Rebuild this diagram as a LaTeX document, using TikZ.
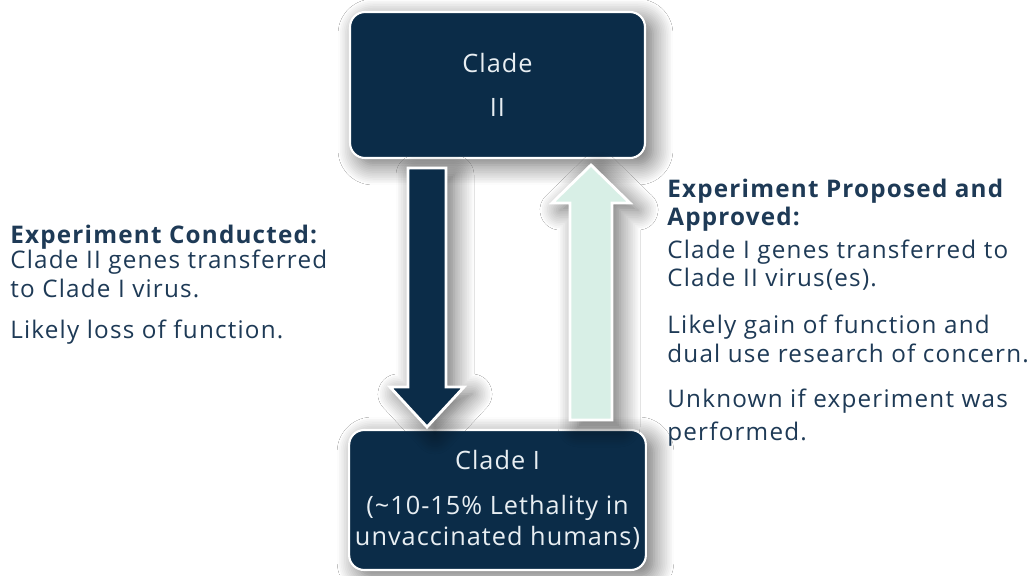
\documentclass[tikz,border=0pt]{standalone}
\usepackage{fontspec}
\setmainfont{Open Sans}[LetterSpace=4]
\newfontfamily\labfont{Open Sans}[LetterSpace=5]
\usetikzlibrary{shadows.blur}
\definecolor{navy}{HTML}{0B2C48}
\definecolor{mint}{HTML}{D8EFE6}
\definecolor{txt}{HTML}{1E3A56}
\definecolor{boxtxt}{HTML}{E8EEF2}
\begin{document}
\begin{tikzpicture}[x=0.02cm,y=-0.02cm,
  sh/.style={blur shadow={shadow xshift=0.16cm, shadow yshift=-0.14cm, shadow blur steps=12, shadow blur radius=0.4cm, shadow opacity=60}},
  clade/.style={draw=white, line width=1.2pt, fill=navy, rounded corners=0.3cm, text=boxtxt, align=center, minimum width=5.9cm, sh},
  blockarrow/.style={draw=white, line width=1.6pt, line join=miter, sh},
  lab/.style={anchor=base west, inner sep=0pt, text=txt, font=\labfont\fontsize{13.8}{16}\selectfont},
  labb/.style={lab, font=\labfont\fontsize{13.8}{16}\selectfont\bfseries}]
\useasboundingbox (0,0) rectangle (1034,575);
\fill[white] (0,0) rectangle (1034,575);
% boxes
\node[clade, minimum height=2.92cm, font=\fontsize{14.4}{25}\selectfont] (c2) at (497.5,85) {Clade\\II};
\node[clade, minimum height=2.8cm, font=\fontsize{14.4}{17.6}\selectfont] (c1) at (497.5,500) {Clade I\\[8pt](\textasciitilde10-15\% Lethality in\\unvaccinated humans)};
% arrows
\path[blockarrow, fill=navy] (408,168) -- (446,168) -- (446,387) -- (464,387) -- (427,427) -- (390,387) -- (408,387) -- cycle;
\path[blockarrow, fill=mint] (570,420) -- (612,420) -- (612,203) -- (630,203) -- (591,165) -- (552,203) -- (570,203) -- cycle;
% left text
\node[labb] (l1) at (10,243) {Experiment Conducted:};
\node[lab] (l2) at (10,268) {Clade II genes transferred};
\node[lab] (l3) at (10,297) {to Clade I virus.};
\node[lab] (l4) at (10,338) {Likely loss of function.};
% right text
\node[labb] (r1) at (667,197) {Experiment Proposed and};
\node[labb] (r2) at (667,225) {Approved:};
\node[lab] (r3) at (667,258) {Clade I genes transferred to};
\node[lab] (r4) at (667,286) {Clade II virus(es).};
\node[lab] (r5) at (667,333) {Likely gain of function and};
\node[lab] (r6) at (667,362) {dual use research of concern.};
\node[lab] (r7) at (667,407) {Unknown if experiment was};
\node[lab] (r8) at (667,440) {performed.};
\end{tikzpicture}
\end{document}
